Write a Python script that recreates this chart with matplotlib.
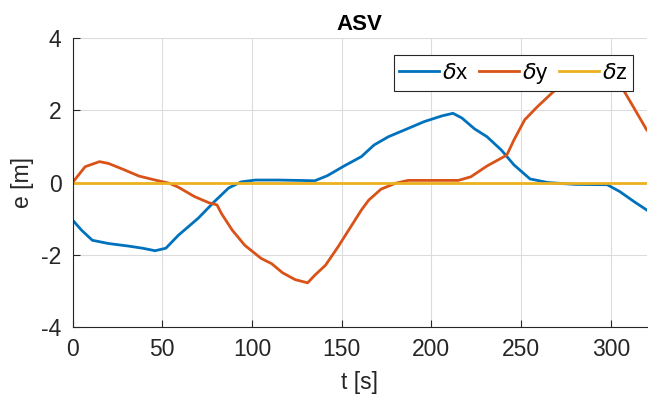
import matplotlib
import matplotlib.pyplot as plt

matplotlib.use("Agg")

plt.rcParams["font.family"] = ["Liberation Sans", "DejaVu Sans"]
plt.rcParams["axes.unicode_minus"] = False

# delta x (blue)
t_x = [0, 5, 11, 20, 31, 39, 46, 52, 59, 70, 79, 87, 94, 102, 115, 135, 142,
       151, 161, 168, 176, 187, 196, 206, 212, 217, 224, 231, 239, 246, 255,
       265, 280, 298, 305, 313, 320]
dx = [-1.04, -1.32, -1.6, -1.69, -1.76, -1.82, -1.89, -1.82, -1.46, -0.99,
      -0.53, -0.15, 0.02, 0.07, 0.07, 0.05, 0.19, 0.45, 0.72, 1.04, 1.27, 1.5,
      1.69, 1.85, 1.92, 1.79, 1.49, 1.27, 0.9, 0.49, 0.1, 0.0, -0.05, -0.06,
      -0.25, -0.53, -0.76]

# delta y (orange)
t_y = [0, 7, 15, 20, 28, 37, 46, 54, 59, 68, 76, 80.5, 83, 89, 96, 105, 111,
       117, 124, 131, 135, 141, 148, 161, 165, 172, 180, 187, 215, 222, 231,
       242, 246, 252, 259, 268, 276, 285, 295, 302, 307, 313, 320]
dy = [0, 0.44, 0.58, 0.53, 0.37, 0.18, 0.07, -0.02, -0.13, -0.39, -0.56,
      -0.62, -0.86, -1.32, -1.74, -2.1, -2.25, -2.5, -2.69, -2.78, -2.57,
      -2.29, -1.78, -0.76, -0.49, -0.18, -0.02, 0.06, 0.06, 0.16, 0.46, 0.76,
      1.18, 1.74, 2.1, 2.52, 2.8, 2.95, 2.95, 2.75, 2.57, 2.06, 1.46]

# delta z (yellow)
t_z = [0, 320]
dz = [0, 0]

x_ticks = [0, 50, 100, 150, 200, 250, 300]
y_ticks = [-4, -2, 0, 2, 4]

fig = plt.figure(figsize=(6.48, 4.03), dpi=100)
ax = fig.add_axes([0.112, 0.189, 0.886, 0.716])

ax.plot(t_x, dx, color="#0072BD", linewidth=2, label=r"$\delta$x")
ax.plot(t_y, dy, color="#D95319", linewidth=2, label=r"$\delta$y")
ax.plot(t_z, dz, color="#EDB120", linewidth=2, label=r"$\delta$z")

ax.set_xlim(0, 320)
ax.set_ylim(-4, 4)
ax.set_xticks(x_ticks)
ax.set_yticks(y_ticks)
ax.grid(True, color="#dcdcdc", linewidth=0.8)
ax.set_axisbelow(True)

for side in ["top", "right"]:
    ax.spines[side].set_visible(False)
for side in ["left", "bottom"]:
    ax.spines[side].set_color("#262626")
ax.tick_params(direction="in", labelsize=16.5, colors="#262626", length=5,
               pad=8)

ax.set_title("ASV", fontsize=16, fontweight="bold", pad=6)
ax.set_xlabel("t [s]", fontsize=16.5, color="#262626", labelpad=7)
ax.set_ylabel("e [m]", fontsize=16.5, color="#262626", labelpad=5)

leg = ax.legend(loc="upper right", bbox_to_anchor=(0.977, 0.941), ncol=3,
                fontsize=16, frameon=True, fancybox=False, borderaxespad=0,
                handlelength=1.8, columnspacing=0.45, handletextpad=0.15,
                borderpad=0.25, framealpha=1)
leg.get_frame().set_edgecolor("#262626")
leg.get_frame().set_linewidth(0.8)

fig.savefig("out.png", dpi=100)
